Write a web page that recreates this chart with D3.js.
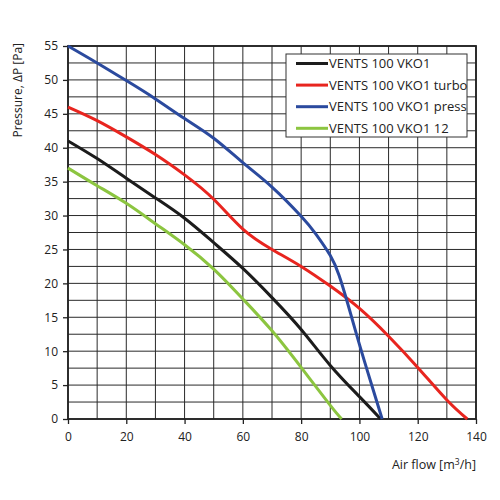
<!DOCTYPE html>
<html lang="en">
<head>
    <meta charset="UTF-8">
    <title>VENTS 100 VKO1 fan curves</title>
    <script src="https://d3js.org/d3.v7.min.js"></script>
    <style>
        body { margin: 0; background: #fff; }
        text { font-family: "Open Sans", sans-serif; fill: #222; }
    </style>
</head>
<body>
    <svg id="chart"></svg>

    <script>
        // series: [air flow m3/h, pressure Pa]
        const seriesNames = ["VENTS 100 VKO1", "VENTS 100 VKO1 turbo", "VENTS 100 VKO1 press", "VENTS 100 VKO1 12"];
        const seriesColors = ["#1c1c1c", "#e8251f", "#2b4a9e", "#8cc540"];

        const vko1 = [[0, 41], [10, 38.4], [20, 35.5], [30, 32.6], [40, 29.6], [50, 26], [60, 22.2],
            [70, 17.9], [80, 13.2], [90, 7.9], [100, 3.3], [107.3, 0]];
        const turbo = [[0, 46], [10, 44], [20, 41.6], [30, 39], [40, 36], [50, 32.4], [60, 28],
            [70, 25], [80, 22.5], [90, 19.6], [100, 16.3], [110, 12.2], [120, 7.6], [130, 2.8], [137, 0]];
        const press = [[0, 55], [10, 52.5], [20, 49.9], [30, 47.2], [40, 44.3], [50, 41.4], [60, 37.8],
            [70, 34.2], [80, 29.9], [85, 27.3], [90, 24.1], [93, 21.2], [96, 17], [100, 11], [104, 5.3], [107.8, 0]];
        const vko1_12 = [[0, 37], [10, 34.4], [20, 31.8], [30, 28.8], [40, 25.7], [50, 22.1], [60, 17.7],
            [70, 13], [80, 7.6], [90, 2], [93.9, 0]];

        const xTicks = [0, 20, 40, 60, 80, 100, 120, 140];
        const yTicks = [0, 5, 10, 15, 20, 25, 30, 35, 40, 45, 50, 55];

        const allSeries = [vko1, turbo, press, vko1_12];

        const W = 500, H = 500;
        const margin = { top: 46, right: 24, bottom: 81, left: 68 };
        const width = W - margin.left - margin.right;
        const height = H - margin.top - margin.bottom;

        const svg = d3.select("#chart").attr("width", W).attr("height", H);
        const g = svg.append("g").attr("transform", `translate(${margin.left},${margin.top})`);

        const x = d3.scaleLinear().domain([0, 140]).range([0, width]);
        const y = d3.scaleLinear().domain([0, 55]).range([height, 0]);

        // grid
        g.append("g")
            .selectAll("line")
            .data(d3.range(0, 141, 10))
            .join("line")
            .attr("x1", d => x(d)).attr("x2", d => x(d))
            .attr("y1", 0).attr("y2", height)
            .attr("stroke", "#2a2a2a").attr("stroke-width", 1);

        g.append("g")
            .selectAll("line")
            .data(d3.range(0, 55.1, 2.5))
            .join("line")
            .attr("x1", 0).attr("x2", width)
            .attr("y1", d => y(d)).attr("y2", d => y(d))
            .attr("stroke", "#2a2a2a").attr("stroke-width", 1);

        // axes
        const xAxis = g.append("g")
            .attr("transform", `translate(0,${height})`)
            .call(d3.axisBottom(x).tickValues(xTicks).tickSize(5).tickPadding(8).tickFormat(d3.format("d")));
        const yAxis = g.append("g")
            .call(d3.axisLeft(y).tickValues(yTicks).tickSize(5).tickPadding(5).tickFormat(d3.format("d")));

        [xAxis, yAxis].forEach(a => {
            a.select(".domain").remove();
            a.selectAll("line").attr("stroke", "#222").attr("stroke-width", 1.3);
            a.selectAll("text").style("font-size", "12px").attr("fill", "#222");
        });

        // frame
        g.append("rect")
            .attr("width", width).attr("height", height)
            .attr("fill", "none").attr("stroke", "#222").attr("stroke-width", 1.8);

        // curves
        const line = d3.line()
            .x(d => x(d[0]))
            .y(d => y(d[1]))
            .curve(d3.curveNatural);

        g.selectAll(".curve")
            .data(allSeries)
            .join("path")
            .attr("class", "curve")
            .attr("d", line)
            .attr("fill", "none")
            .attr("stroke", (d, i) => seriesColors[i])
            .attr("stroke-width", 3)
            .attr("stroke-linecap", "butt");

        // legend
        const lg = svg.append("g").attr("transform", "translate(286,54)");
        lg.append("rect")
            .attr("width", 181).attr("height", 83)
            .attr("fill", "#fff").attr("stroke", "#333").attr("stroke-width", 1);
        seriesNames.forEach((name, i) => {
            const yy = 9.5 + i * 21.6;
            lg.append("line")
                .attr("x1", 10).attr("x2", 42)
                .attr("y1", yy).attr("y2", yy)
                .attr("stroke", seriesColors[i]).attr("stroke-width", 3);
            lg.append("text")
                .attr("x", 43).attr("y", yy)
                .attr("dy", "0.36em")
                .style("font-size", "13px")
                .text(name);
        });

        // axis titles
        svg.append("text")
            .attr("transform", "translate(22,43) rotate(-90)")
            .attr("text-anchor", "end")
            .style("font-size", "12px")
            .text("Pressure, ΔP [Pa]");

        const xt = svg.append("text")
            .attr("x", 476).attr("y", 469)
            .attr("text-anchor", "end")
            .style("font-size", "12.5px");
        xt.append("tspan").text("Air flow [m");
        xt.append("tspan").attr("dy", -4).style("font-size", "8.5px").text("3");
        xt.append("tspan").attr("dy", 4).text("/h]");
    </script>
</body>
</html>
